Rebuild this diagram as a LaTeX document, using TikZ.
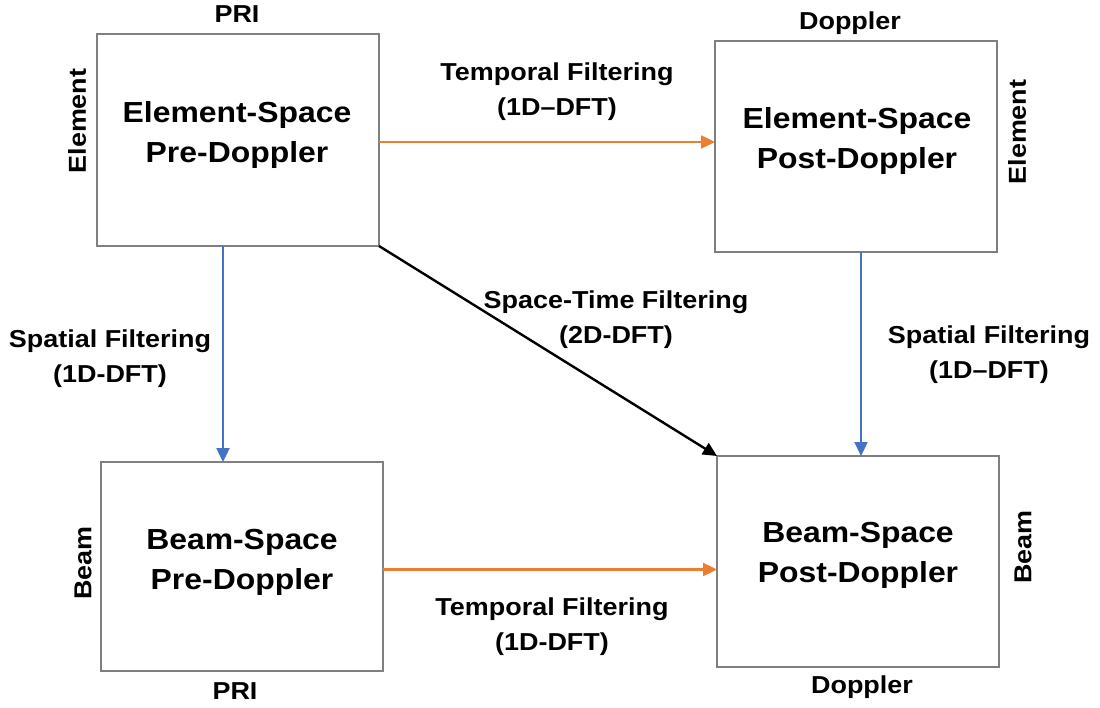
\documentclass[tikz,border=0pt]{standalone}
\usepackage{fontspec}
\setmainfont{Liberation Sans}[FakeStretch=1.1]
\usetikzlibrary{arrows.meta}
\definecolor{boxgray}{HTML}{7F7F7F}
\definecolor{flowor}{HTML}{ED7D31}
\definecolor{flowbl}{HTML}{4472C4}
\tikzset{
  stage/.style={draw=boxgray, line width=2.7pt, rectangle, inner sep=0pt, outer sep=0pt,
    minimum width=282pt, fill=white},
  stagetext/.style={align=center, font=\fontsize{29}{40}\selectfont\bfseries},
  edgetext/.style={align=center, font=\fontsize{24.5}{35}\selectfont\bfseries},
  axis/.style={font=\fontsize{24.5}{30}\selectfont\bfseries, inner sep=0pt},
  flow/.style={line width=2.4pt, -{Triangle[length=14pt,width=13pt]}},
}
\begin{document}
\begin{tikzpicture}[x=1pt, y=-1pt]
  \useasboundingbox (0,0) rectangle (1100,708);

  % processing stages
  \node[stage, minimum height=212pt] (A) at (238,140) {};
  \node[stage, minimum height=211pt] (B) at (856,146.5) {};
  \node[stage, minimum height=209pt] (C) at (242,566.5) {};
  \node[stage, minimum height=211pt] (D) at (858,561.5) {};

  \node[stagetext] (At) at (237,135) {Element-Space\\Pre-Doppler};
  \node[stagetext] (Bt) at (857,141) {Element-Space\\Post-Doppler};
  \node[stagetext] (Ct) at (242,562) {Beam-Space\\Pre-Doppler};
  \node[stagetext] (Dt) at (858,555) {Beam-Space\\Post-Doppler};

  % data-cube axes
  \node[axis] (Apri) at (237,14) {PRI};
  \node[axis, rotate=90] (Aelem) at (77,121) {Element};
  \node[axis] (Bdop) at (850,23) {Doppler};
  \node[axis, rotate=90] (Belem) at (1017,132) {Element};
  \node[axis, rotate=90] (Cbeam) at (83,563) {Beam};
  \node[axis] (Cpri) at (235,691) {PRI};
  \node[axis, rotate=90] (Dbeam) at (1023,547) {Beam};
  \node[axis] (Ddop) at (862,687) {Doppler};

  % transforms between stages
  \draw[flow, flowor] ([yshift=-2pt]A.east) -- ([yshift=-2pt]A.east -| B.west);
  \draw[flow, flowor] ([yshift=-3pt]C.east) -- ([yshift=-3pt]C.east -| D.west);
  \draw[flow, flowbl] ([xshift=-15pt]A.south) -- ([xshift=-15pt]A.south |- C.north);
  \draw[flow, flowbl] ([xshift=5pt]B.south) -- ([xshift=5pt]B.south |- D.north);
  \draw[flow, black] (A.south east) -- (D.north west);

  % transform labels
  \node[edgetext] (Ltop) at (557,92) {Temporal Filtering\\(1D--DFT)};
  \node[edgetext] (Ldiag) at (616,320) {Space-Time Filtering\\(2D-DFT)};
  \node[edgetext] (Lleft) at (110,359) {Spatial Filtering\\(1D-DFT)};
  \node[edgetext] (Lright) at (989,355) {Spatial Filtering\\(1D--DFT)};
  \node[edgetext] (Lbot) at (552,627) {Temporal Filtering\\(1D-DFT)};
\end{tikzpicture}
\end{document}
